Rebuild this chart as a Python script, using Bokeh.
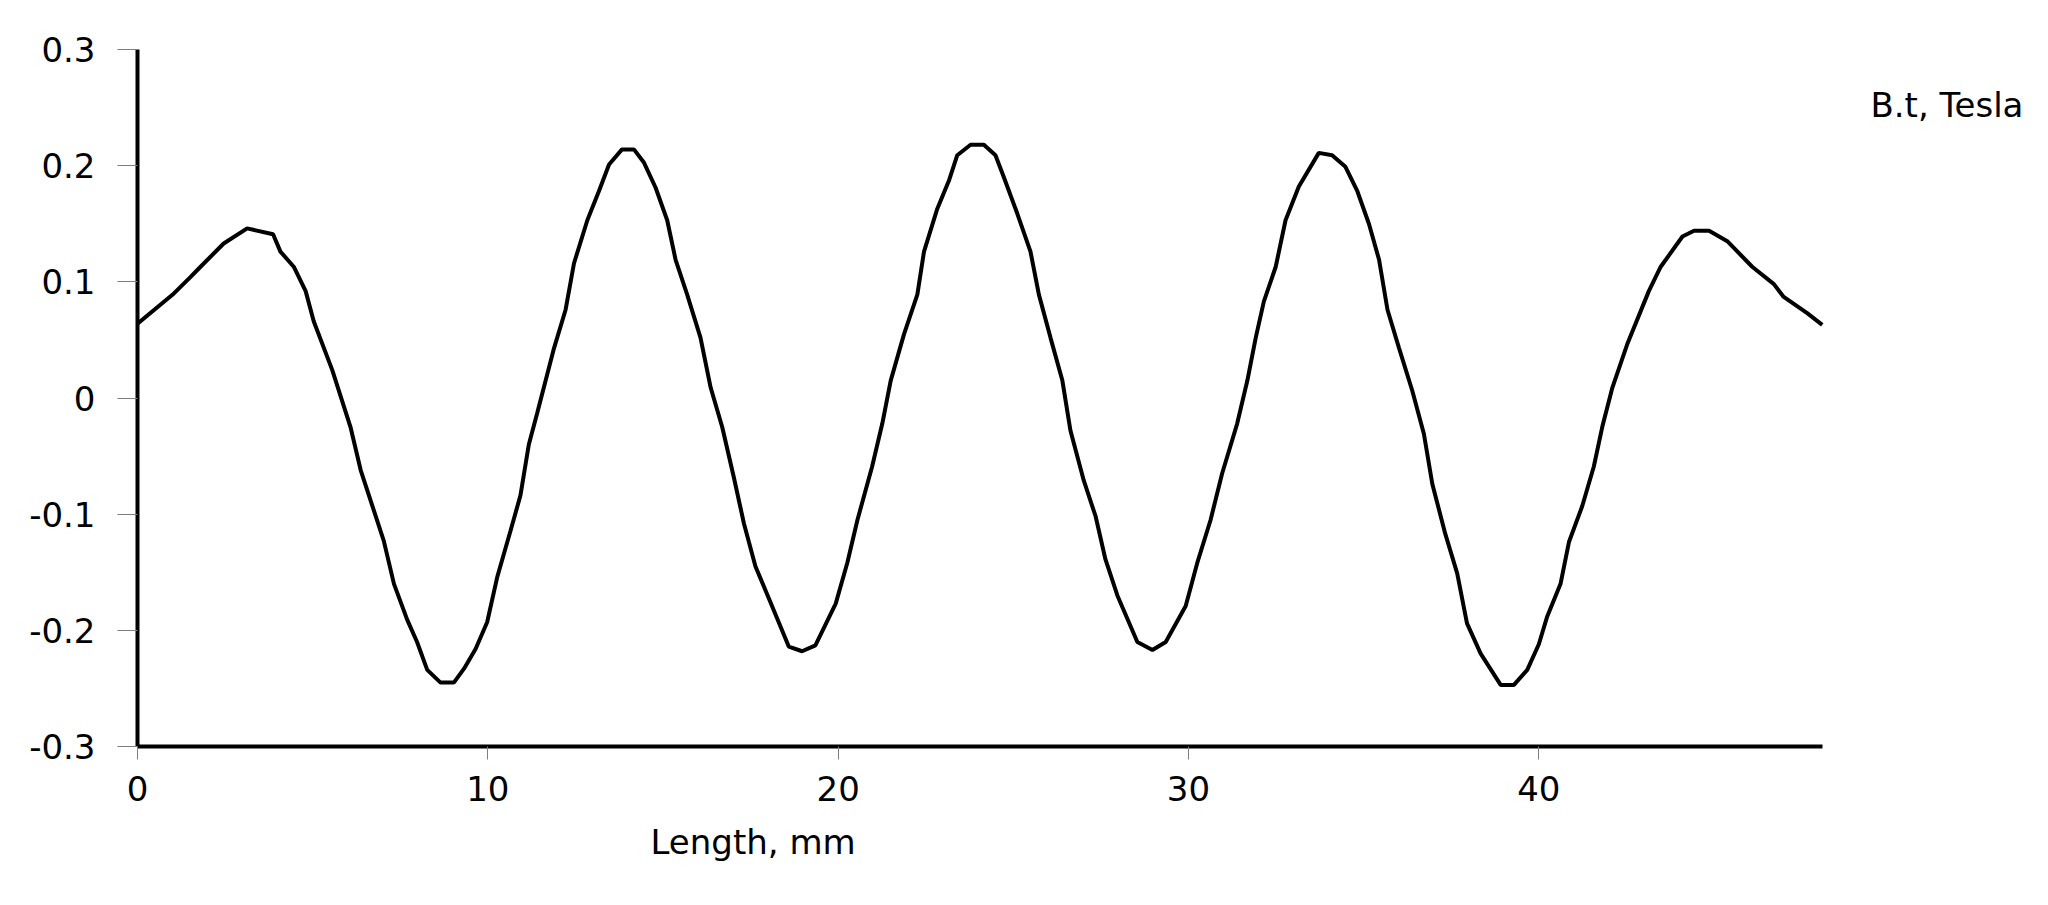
from bokeh.plotting import figure
from bokeh.models import Range1d, FixedTicker, Title
from bokeh.core.properties import value
from bokeh.embed import file_html
from bokeh.resources import INLINE

# Length along the sample, mm
length_mm = [
    0.00, 1.04, 1.51, 1.80, 2.46, 3.13, 3.87, 4.08, 4.46, 4.80,
    5.03, 5.56, 6.08, 6.37, 7.03, 7.32, 7.70, 7.98, 8.27, 8.65,
    9.03, 9.32, 9.65, 9.98, 10.27, 10.65, 10.93, 11.17, 11.41, 11.65,
    11.89, 12.22, 12.46, 12.84, 13.17, 13.46, 13.83, 14.17, 14.45, 14.79,
    15.12, 15.36, 15.69, 16.07, 16.36, 16.69, 17.02, 17.31, 17.64, 18.07,
    18.59, 18.97, 19.35, 19.93, 20.26, 20.55, 20.97, 21.26, 21.50, 21.88,
    22.26, 22.45, 22.83, 23.16, 23.40, 23.78, 24.16, 24.49, 24.73, 25.11,
    25.49, 25.73, 26.06, 26.40, 26.63, 27.01, 27.35, 27.63, 27.97, 28.54,
    28.97, 29.35, 29.92, 30.25, 30.63, 30.96, 31.39, 31.68, 31.92, 32.15,
    32.49, 32.77, 33.15, 33.72, 34.10, 34.48, 34.82, 35.15, 35.44, 35.68,
    36.01, 36.39, 36.72, 36.96, 37.33, 37.67, 37.95, 38.34, 38.91, 39.29,
    39.67, 40.00, 40.24, 40.62, 40.86, 41.24, 41.57, 41.81, 42.10, 42.52,
    43.14, 43.48, 44.10, 44.43, 44.86, 45.38, 46.09, 46.71, 46.99, 47.66,
    48.09,
]

# Tangential flux density, Tesla
b_t = [
    0.064, 0.090, 0.104, 0.113, 0.133, 0.146, 0.141, 0.126, 0.113, 0.092,
    0.066, 0.024, -0.025, -0.062, -0.123, -0.160, -0.191, -0.210, -0.234, -0.245,
    -0.245, -0.233, -0.216, -0.193, -0.154, -0.114, -0.084, -0.040, -0.013, 0.015,
    0.043, 0.076, 0.116, 0.153, 0.178, 0.201, 0.214, 0.214, 0.203, 0.181,
    0.153, 0.119, 0.089, 0.052, 0.009, -0.025, -0.068, -0.108, -0.145, -0.176,
    -0.214, -0.218, -0.213, -0.177, -0.142, -0.105, -0.059, -0.022, 0.015, 0.055,
    0.089, 0.126, 0.163, 0.187, 0.209, 0.218, 0.218, 0.209, 0.190, 0.159,
    0.126, 0.089, 0.052, 0.015, -0.028, -0.071, -0.102, -0.139, -0.170, -0.210,
    -0.217, -0.210, -0.179, -0.142, -0.105, -0.065, -0.022, 0.015, 0.052, 0.083,
    0.113, 0.153, 0.182, 0.211, 0.209, 0.199, 0.178, 0.150, 0.119, 0.076,
    0.043, 0.006, -0.031, -0.074, -0.117, -0.151, -0.194, -0.220, -0.247, -0.247,
    -0.234, -0.212, -0.188, -0.160, -0.124, -0.093, -0.059, -0.025, 0.009, 0.046,
    0.092, 0.113, 0.139, 0.144, 0.144, 0.135, 0.113, 0.098, 0.087, 0.073,
    0.063,
]

x_ticks = [0, 10, 20, 30, 40]
x_tick_labels = ["0", "10", "20", "30", "40"]
y_ticks = [-0.3, -0.2, -0.1, 0, 0.1, 0.2, 0.3]
y_tick_labels = ["-0.3", "-0.2", "-0.1", "0", "0.1", "0.2", "0.3"]

x_title = "Length, mm"
y_title = "B.t, Tesla"

FONT = "DejaVu Sans"
X_AXIS_END = 48.1

p = figure(
    frame_width=1903, frame_height=697,
    min_border_left=137, min_border_right=0,
    min_border_top=49, min_border_bottom=151,
    x_range=Range1d(0, 54.32), y_range=Range1d(-0.3, 0.3),
    output_backend="svg", toolbar_location=None,
)
p.outline_line_color = None
p.background_fill_color = "white"
p.border_fill_color = "white"
p.xgrid.visible = False
p.ygrid.visible = False

p.line(length_mm, b_t, line_color="black", line_width=4)

for ax in (p.xaxis[0], p.yaxis[0]):
    ax.axis_line_color = "black"
    ax.axis_line_width = 4
    ax.major_tick_line_color = "#7f7f7f"
    ax.major_tick_line_width = 1
    ax.major_tick_in = 0
    ax.minor_tick_line_color = None
    ax.major_label_text_font = FONT
    ax.major_label_text_font_size = "34px"
    ax.major_label_text_color = "black"

p.xaxis[0].bounds = (0, X_AXIS_END)
p.xaxis[0].ticker = FixedTicker(ticks=x_ticks)
p.xaxis[0].major_label_overrides = dict(zip(x_ticks, x_tick_labels))
p.xaxis[0].major_tick_out = 13
p.xaxis[0].major_label_standoff = 16

p.yaxis[0].ticker = FixedTicker(ticks=y_ticks)
p.yaxis[0].major_label_overrides = dict(zip(y_ticks, y_tick_labels))
p.yaxis[0].major_tick_out = 20
p.yaxis[0].major_label_standoff = 22

# series name, placed to the right of the axis end
p.text(x=[51.65], y=[0.2518], text=[y_title], text_font=value(FONT),
       text_font_size="34px", text_align="center", text_baseline="middle",
       text_color="black")

# x axis title (offset to the left as in the original)
p.add_layout(Title(text=x_title, align="left", offset=513, standoff=33,
                   text_font=FONT, text_font_size="34px",
                   text_font_style="normal", text_color="black"), "below")

open("out.html", "w").write(file_html(p, INLINE))
